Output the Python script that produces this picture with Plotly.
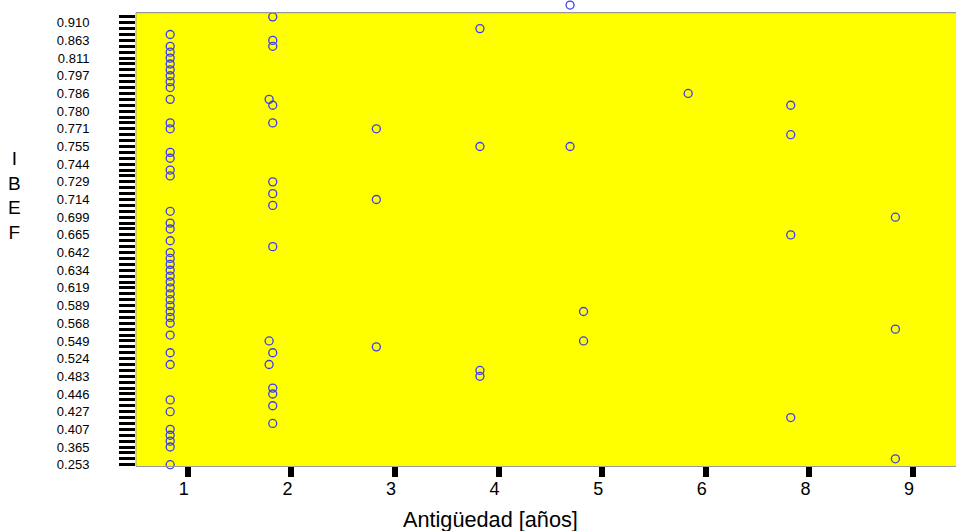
import plotly.graph_objects as go

# ---- data -------------------------------------------------------------
# y categories (IBEF values) from bottom to top of the axis
ibef_categories = [
    "0.253", "0.318", "0.347", "0.365", "0.381", "0.395", "0.407", "0.415",
    "0.421", "0.427", "0.433", "0.440", "0.446", "0.458", "0.471", "0.483",
    "0.497", "0.511", "0.524", "0.532", "0.541", "0.549", "0.556", "0.562",
    "0.568", "0.575", "0.582", "0.589", "0.599", "0.609", "0.619", "0.624",
    "0.629", "0.634", "0.637", "0.639", "0.642", "0.650", "0.657", "0.665",
    "0.676", "0.688", "0.699", "0.704", "0.709", "0.714", "0.719", "0.724",
    "0.729", "0.734", "0.739", "0.744", "0.748", "0.751", "0.755", "0.760",
    "0.766", "0.771", "0.774", "0.777", "0.780", "0.782", "0.784", "0.786",
    "0.790", "0.793", "0.797", "0.802", "0.806", "0.811", "0.826", "0.843",
    "0.863", "0.878", "0.894", "0.910", "0.923", "0.936", "0.951",
]
# labelled categories (every third one)
ibef_labels = [
    "0.253", "0.365", "0.407", "0.427", "0.446", "0.483", "0.524", "0.549",
    "0.568", "0.589", "0.619", "0.634", "0.642", "0.665", "0.699", "0.714",
    "0.729", "0.744", "0.755", "0.771", "0.780", "0.786", "0.797", "0.811",
    "0.863", "0.910",
]

# x tick labels (antigüedad, años)
anios_labels = ["1", "2", "3", "4", "5", "6", "8", "9"]

# points: x position on the antigüedad axis, IBEF value
x_vals = (
    [0.83] * 43
    + [1.82, 1.82, 1.82, 1.785, 1.82, 1.82, 1.82, 1.82, 1.82, 1.82,
       1.785, 1.82, 1.785, 1.82, 1.82, 1.82, 1.82]
    + [2.82] * 3
    + [3.82] * 4
    + [4.69, 4.69, 4.82, 4.82]
    + [5.83]
    + [6.82] * 4
    + [7.83] * 3
)
y_vals = [
    # antigüedad 1
    "0.878", "0.843", "0.826", "0.811", "0.806", "0.802", "0.797", "0.793",
    "0.790", "0.784", "0.774", "0.771", "0.751", "0.748", "0.739", "0.734",
    "0.704", "0.688", "0.676", "0.657", "0.642", "0.639", "0.637", "0.634",
    "0.629", "0.624", "0.619", "0.609", "0.599", "0.589", "0.582", "0.575",
    "0.568", "0.556", "0.532", "0.511", "0.440", "0.427", "0.407", "0.395",
    "0.381", "0.365", "0.253",
    # antigüedad 2
    "0.923", "0.863", "0.843", "0.784", "0.782", "0.774", "0.729", "0.719",
    "0.709", "0.650", "0.549", "0.532", "0.511", "0.458", "0.446", "0.433",
    "0.415",
    # antigüedad 3
    "0.771", "0.714", "0.541",
    # antigüedad 4
    "0.894", "0.755", "0.497", "0.483",
    # antigüedad 5
    "0.951", "0.755", "0.582", "0.549",
    # antigüedad 6
    "0.786",
    # antigüedad 8
    "0.782", "0.766", "0.665", "0.421",
    # antigüedad 9
    "0.699", "0.562", "0.318",
]

# ---- figure -----------------------------------------------------------
W, H = 956, 531
L, R, T, B = 136, 0, 0, 65
plot_w = W - L - R
plot_h = H - T - B
cat_px_x = 103.6          # pixels per x category
cat_px_y = 5.893          # pixels per y category
y0 = -0.22
y1 = y0 + plot_h / cat_px_y
y_top_visible = 76.7      # top edge of the yellow panel (in category units)
panel_top = (y_top_visible - y0) / (y1 - y0)

fig = go.Figure()
fig.add_trace(go.Scatter(
    x=x_vals, y=y_vals, mode="markers",
    marker=dict(symbol="circle-open", size=8, color="rgb(60,60,235)",
                line=dict(width=1.3, color="rgb(60,60,235)")),
    cliponaxis=False, showlegend=False,
))

# yellow panel and its border
fig.add_shape(type="rect", xref="paper", yref="paper",
              x0=0, x1=1, y0=0, y1=panel_top,
              fillcolor="#ffff00", line=dict(width=0), layer="below")
fig.add_shape(type="line", xref="paper", yref="paper",
              x0=0, x1=1, y0=panel_top, y1=panel_top,
              line=dict(color="#999999", width=1.2), layer="above")
fig.add_shape(type="line", xref="paper", yref="paper",
              x0=0, x1=0, y0=0, y1=panel_top,
              line=dict(color="#999999", width=1), layer="above")

visible_cats = [c for c in ibef_categories
                if ibef_categories.index(c) <= y_top_visible]

fig.update_layout(
    width=W, height=H,
    margin=dict(l=L, r=R, t=T, b=B, pad=0),
    paper_bgcolor="white", plot_bgcolor="white",
    font=dict(family="Liberation Sans, Arial, sans-serif", color="black"),
    showlegend=False,
)
fig.update_xaxes(
    type="linear",
    range=[0.5, 0.5 + plot_w / cat_px_x],
    tickmode="array",
    tickvals=list(range(1, len(anios_labels) + 1)),
    ticktext=anios_labels,
    ticks="outside", ticklen=10, tickwidth=6, tickcolor="black",
    ticklabelshift=-4, ticklabelstandoff=-4,
    tickfont=dict(size=18, color="black"),
    showgrid=False, zeroline=False,
    showline=True, linecolor="#999999", linewidth=1, mirror=False,
)
fig.update_yaxes(
    type="category",
    categoryorder="array", categoryarray=ibef_categories,
    range=[y0, y1],
    tickmode="array",
    tickvals=visible_cats,
    ticktext=[c if c in ibef_labels else "" for c in visible_cats],
    ticks="outside", ticklen=16, tickwidth=3, tickcolor="black",
    ticklabelstandoff=27,
    tickfont=dict(size=13, color="black"),
    showgrid=False, zeroline=False, showline=False,
)

fig.add_annotation(
    text="I<br>B<br>E<br>F", xref="paper", yref="paper",
    x=(14 - L) / plot_w, y=(H - B - 195) / plot_h,
    xanchor="center", yanchor="middle", showarrow=False,
    font=dict(size=19, color="black"),
)
fig.add_annotation(
    text="Antigüedad [años]", xref="paper", yref="paper",
    x=(490 - L) / plot_w, y=(H - B - 519) / plot_h,
    xanchor="center", yanchor="middle", showarrow=False,
    font=dict(size=21.7, color="black"),
)

fig.write_html("out.html")
